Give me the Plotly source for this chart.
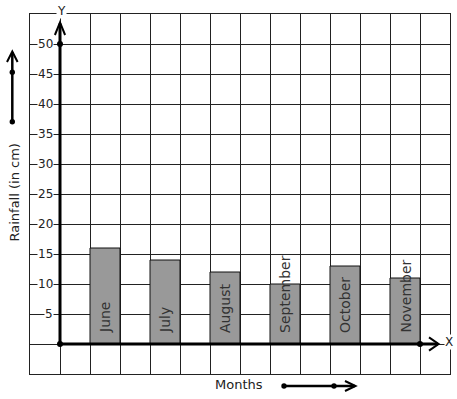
import plotly.graph_objects as go

# ---- data ----
months = ["June", "July", "August", "September", "October", "November"]
rainfall = [16, 14, 12, 10, 13, 11]
y_ticks = [5, 10, 15, 20, 25, 30, 35, 40, 45, 50]
x_title = "Months"
y_title = "Rainfall (in cm)"

W, H = 457, 399
ML, MR, MT, MB = 30, 7, 14, 25
PW, PH = W - ML - MR, H - MT - MB
FONT = "DejaVu Sans"


def px(x):
    return (x - ML) / PW


def py(y):
    return (H - MB - y) / PH


bar_x = [1.5 + 2 * i for i in range(len(months))]

fig = go.Figure()
fig.add_trace(go.Bar(
    x=bar_x, y=rainfall, width=1,
    marker=dict(color="#999999", line=dict(color="#111111", width=1)),
    hoverinfo="skip",
))

# dots on the axes
fig.add_trace(go.Scatter(
    x=[0, 0, 12], y=[50, 0, 0], mode="markers",
    marker=dict(color="black", size=6), cliponaxis=False, hoverinfo="skip",
))

shapes = []
# thick axes with open arrowheads (data coords)
shapes.append(dict(type="line", xref="x", yref="y", x0=0, y0=0, x1=0, y1=53.4,
                   line=dict(color="black", width=3)))
shapes.append(dict(type="path", xref="x", yref="y",
                   path="M -0.17,51.5 L 0,53.6 L 0.17,51.5",
                   line=dict(color="black", width=2)))
shapes.append(dict(type="line", xref="x", yref="y", x0=0, y0=0, x1=12.6, y1=0,
                   line=dict(color="black", width=3)))
shapes.append(dict(type="path", xref="x", yref="y",
                   path="M 12.3,1.1 L 12.62,0 L 12.3,-1.1",
                   line=dict(color="black", width=2)))

# decorative arrow at left
shapes.append(dict(type="line", xref="paper", yref="paper",
                   x0=px(12.3), y0=py(121.7), x1=px(12.3), y1=py(52),
                   line=dict(color="black", width=2.5)))
shapes.append(dict(type="path", xref="paper", yref="paper",
                   path=f"M {px(7)},{py(62)} L {px(12.3)},{py(51.5)} L {px(17.6)},{py(62)}",
                   line=dict(color="black", width=2)))
for yy in (72.3, 121.7):
    shapes.append(dict(type="circle", xref="paper", yref="paper",
                       x0=px(9.6), x1=px(15), y0=py(yy + 2.7), y1=py(yy - 2.7),
                       fillcolor="black", line=dict(color="black", width=0)))

# decorative arrow at bottom
shapes.append(dict(type="line", xref="paper", yref="paper",
                   x0=px(284), y0=py(386), x1=px(355), y1=py(386),
                   line=dict(color="black", width=2.5)))
shapes.append(dict(type="path", xref="paper", yref="paper",
                   path=f"M {px(345)},{py(381)} L {px(355.5)},{py(386)} L {px(345)},{py(391)}",
                   line=dict(color="black", width=2)))
for xx in (284, 334):
    shapes.append(dict(type="circle", xref="paper", yref="paper",
                       x0=px(xx - 2.7), x1=px(xx + 2.7), y0=py(386 + 2.7), y1=py(386 - 2.7),
                       fillcolor="black", line=dict(color="black", width=0)))

annotations = []
# y tick labels with white background
for t in y_ticks:
    annotations.append(dict(x=0, y=t, xref="x", yref="y", text=str(t),
                            showarrow=False, xanchor="right", yanchor="middle",
                            xshift=-6, bgcolor="white", borderpad=0,
                            font=dict(family=FONT, size=12, color="#222222")))
# bar labels
for xv, m in zip(bar_x, months):
    annotations.append(dict(x=xv, y=0, xref="x", yref="y", text=m, textangle=-90,
                            showarrow=False, xanchor="center", yanchor="bottom",
                            yshift=10, borderpad=0,
                            font=dict(family=FONT, size=14, color="#333333")))
# axis letters
annotations.append(dict(x=px(61), y=py(10.5), xref="paper", yref="paper", text="Y",
                        showarrow=False, xanchor="center", yanchor="middle",
                        bgcolor="white", borderpad=0,
                        font=dict(family=FONT, size=12, color="#222222")))
annotations.append(dict(x=px(448.7), y=py(342), xref="paper", yref="paper", text="X",
                        showarrow=False, xanchor="center", yanchor="middle",
                        bgcolor="white", borderpad=0,
                        font=dict(family=FONT, size=12, color="#222222")))
annotations.append(dict(x=px(239), y=py(385), xref="paper", yref="paper", text=x_title,
                        showarrow=False, xanchor="center", yanchor="middle",
                        font=dict(family=FONT, size=13, color="#222222")))
annotations.append(dict(x=px(13.5), y=py(193), xref="paper", yref="paper", text=y_title,
                        textangle=-90, showarrow=False, xanchor="center", yanchor="middle",
                        font=dict(family=FONT, size=13, color="#222222")))

fig.update_layout(
    width=W, height=H,
    margin=dict(l=ML, r=MR, t=MT, b=MB, pad=0),
    paper_bgcolor="white", plot_bgcolor="white",
    showlegend=False,
    shapes=shapes, annotations=annotations,
    xaxis=dict(range=[-1, 13], dtick=1, tick0=0, showgrid=True, gridcolor="#222222",
               gridwidth=1, zeroline=False, showticklabels=False, ticks="",
               showline=True, linecolor="#222222", linewidth=1, mirror=True,
               fixedrange=True),
    yaxis=dict(range=[-5, 55], dtick=5, tick0=0, showgrid=True, gridcolor="#222222",
               gridwidth=1, zeroline=False, showticklabels=False, ticks="",
               showline=True, linecolor="#222222", linewidth=1, mirror=True,
               fixedrange=True),
)

fig.write_html("out.html", config={"displayModeBar": False})
